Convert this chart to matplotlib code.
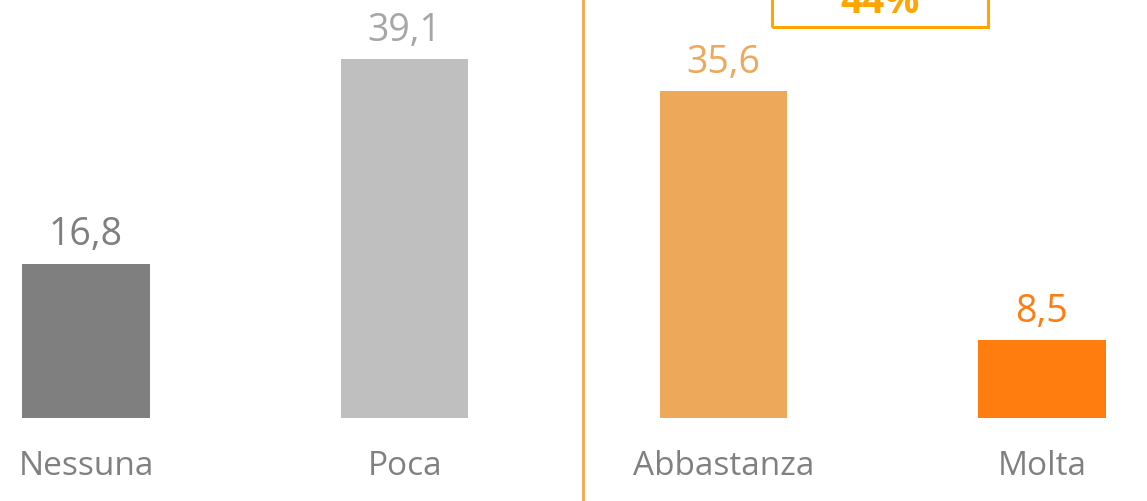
import matplotlib.pyplot as plt
from matplotlib.patches import Rectangle

categorie = ["Nessuna", "Poca", "Abbastanza", "Molta"]
valori = [16.8, 39.1, 35.6, 8.5]
colori = ["#7f7f7f", "#bfbfbf", "#eda85a", "#ff7c0f"]
colori_testo = ["#7f7f7f", "#a6a6a6", "#eda85a", "#ff7c0f"]
totale_testo = "44%"

plt.rcParams['font.family'] = ['Open Sans', 'DejaVu Sans']

fig = plt.figure(figsize=(11.47, 5.02), dpi=100)
ax = fig.add_axes([0, 0, 1, 1])

x = list(range(len(categorie)))
ax.bar(x, valori, width=0.4, color=colori)

for i, v in enumerate(valori):
    ax.text(i, v + 2.1, f"{v:.1f}".replace(".", ","), ha="center", va="baseline",
            fontsize=27, color=colori_testo[i])
    ax.text(i, -5.2, categorie[i], ha="center", va="center",
            fontsize=24, color="#808080")

ax.set_xlim(-0.27, 3.33)
ax.set_ylim(-9.04, 45.64)
ax.axis("off")

# linea di separazione
ax.plot([583 / 1147, 583 / 1147], [0, 1], transform=ax.transAxes,
        color="#f7a34b", lw=2, clip_on=False)

# riquadro totale (tagliato in alto)
box = Rectangle((772 / 1147, 1 - 28 / 502), (988 - 772) / 1147, 0.2,
                transform=ax.transAxes, fill=False, edgecolor="#ffa500",
                lw=2.2, clip_on=False)
ax.add_patch(box)
ax.text(880 / 1147, 1 - 13 / 502, totale_testo, transform=ax.transAxes,
        ha="center", va="baseline", fontsize=28, fontweight="bold",
        color="#ffa500")

fig.savefig("out.png", dpi=100)
